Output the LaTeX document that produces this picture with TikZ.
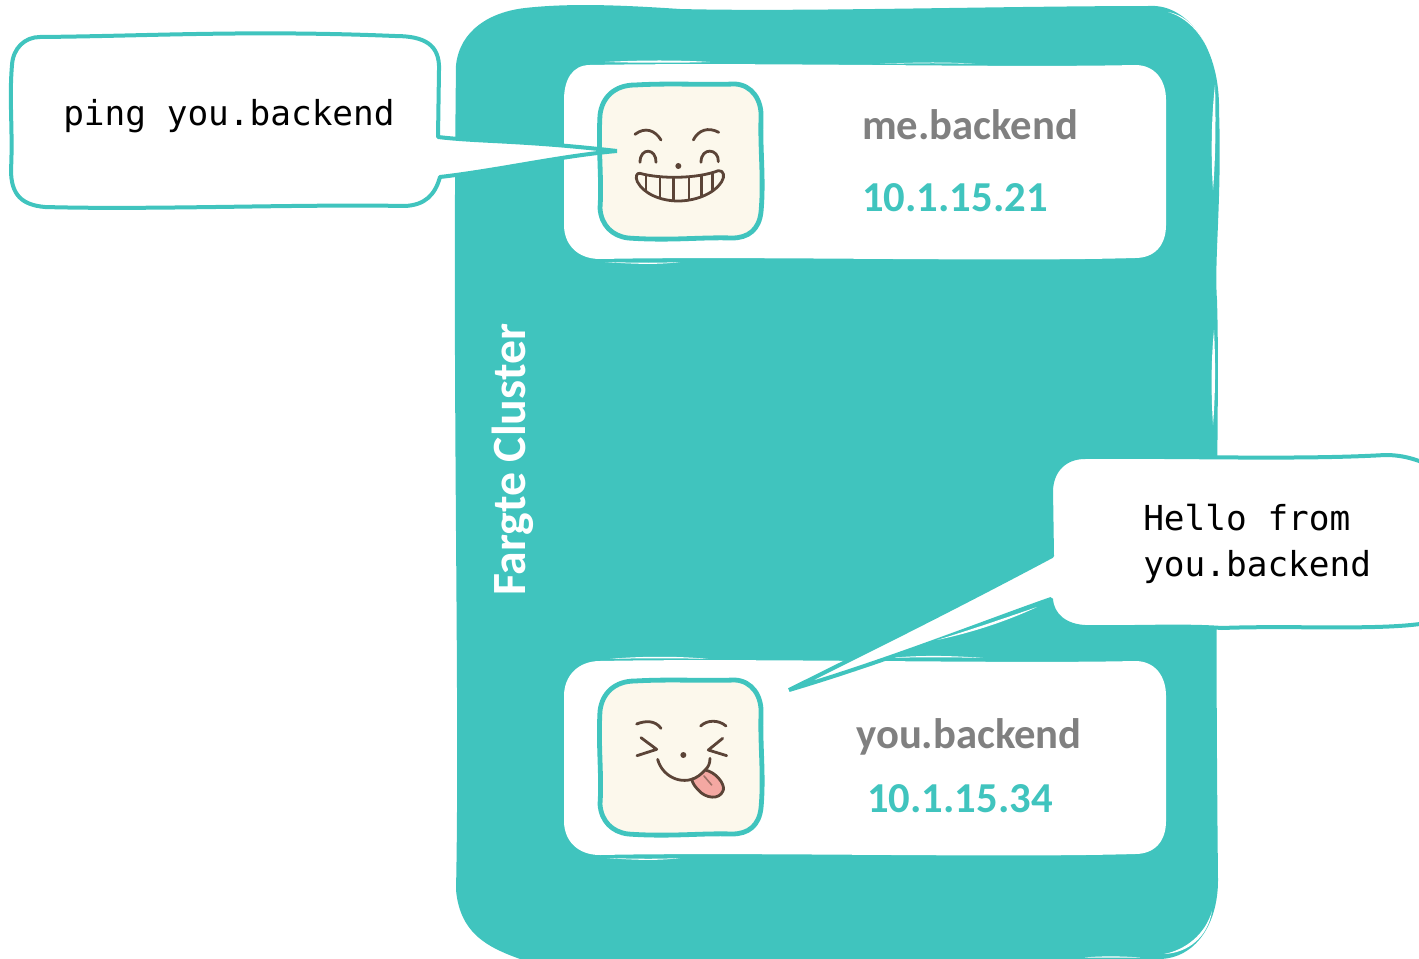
\documentclass[tikz,border=0pt]{standalone}
\usepackage{fontspec}
\setmainfont{Carlito}
\newfontfamily\monof{DejaVu Sans Mono}
\definecolor{teal1}{HTML}{40C4BE}
\definecolor{tile}{HTML}{FCF8EC}
\definecolor{ink}{HTML}{5B4437}
\definecolor{tongue}{HTML}{F4A8A2}
\definecolor{gray1}{HTML}{808080}
\tikzset{
  cluster/.style={fill=teal1},
  panel/.style={fill=white},
  facetile/.style={fill=tile,draw=teal1,line width=3.6pt},
  callout/.style={fill=white,draw=teal1,line width=3pt,line join=bevel},
  sliver/.style={fill=white},
  inkline/.style={draw=ink,line width=2.1pt,line cap=round,line join=round},
  namelabel/.style={anchor=base west,inner sep=0,text=gray1,font=\fontsize{32pt}{35pt}\selectfont\bfseries},
  iplabel/.style={anchor=base west,inner sep=0,text=teal1,font=\fontsize{32pt}{35pt}\selectfont\bfseries},
  saylabel/.style={anchor=base west,inner sep=0,text=black,font=\monof\fontsize{25.8pt}{30pt}\selectfont},
  titlelabel/.style={anchor=base west,inner sep=0,text=white,rotate=90,font=\fontsize{35.8pt}{38pt}\selectfont\bfseries}
}
\begin{document}
\begin{tikzpicture}[x=0.75pt,y=-0.75pt]
\useasboundingbox (0,0) rectangle (1419,959);
\begin{scope}
\clip (0,0) rectangle (1419,959);
% cluster
\path[cluster] (525,8) .. controls (570,3) and (620,5) .. (680,9)
  .. controls (800,12) and (1000,6) .. (1155,6)
  .. controls (1190,8) and (1220,50) .. (1219,110)
  .. controls (1222,200) and (1214,260) .. (1217,300)
  .. controls (1220,400) and (1214,500) .. (1218,880)
  .. controls (1218,925) and (1195,958) .. (1160,959)
  -- (520,959) .. controls (490,948) and (460,935) .. (456,890)
  .. controls (460,700) and (452,400) .. (456,65)
  .. controls (460,30) and (490,12) .. (525,8) -- cycle;
% panels
\path[panel] (590,65) .. controls (750,62) and (1000,68) .. (1135,65)
  .. controls (1155,65) and (1166,80) .. (1166,100)
  -- (1166,225) .. controls (1166,245) and (1155,258) .. (1135,258)
  .. controls (1000,262) and (750,256) .. (600,259)
  .. controls (578,259) and (564,245) .. (564,225)
  -- (564,100) .. controls (564,80) and (572,65) .. (590,65) -- cycle;
\path[panel] (600,661) .. controls (750,658) and (1000,664) .. (1135,661)
  .. controls (1155,661) and (1166,676) .. (1166,696)
  -- (1166,821) .. controls (1166,841) and (1155,854) .. (1135,854)
  .. controls (1000,858) and (750,852) .. (600,855)
  .. controls (578,855) and (564,841) .. (564,821)
  -- (564,696) .. controls (564,676) and (578,661) .. (600,661) -- cycle;
% slivers on the panel and cluster edges
\path[sliver] (610,659) .. controls (640,656) and (680,656) .. (708,659) .. controls (680,658) and (640,658) .. (610,659) -- cycle;
\path[sliver] (890,658) .. controls (920,655) and (950,655.5) .. (983,658) .. controls (950,657) and (920,657) .. (890,658) -- cycle;
\path[sliver] (605,262) .. controls (640,264.5) and (660,264.5) .. (680,262) .. controls (660,263) and (640,263) .. (605,262) -- cycle;
\path[sliver] (607,858) .. controls (640,860.5) and (660,860.5) .. (680,858) .. controls (660,859) and (640,859) .. (607,858) -- cycle;
\path[sliver] (880,64) .. controls (920,62) and (950,62) .. (975,64) .. controls (950,63) and (920,63) .. (880,64) -- cycle;
\path[sliver] (605,62) .. controls (640,60) and (680,60) .. (710,62) .. controls (680,63) and (640,63) .. (605,62) -- cycle;
\path[sliver] (1215,85) .. controls (1211,120) and (1211,160) .. (1213,190) .. controls (1215.5,160) and (1216,120) .. (1215,85) -- cycle;
\path[sliver] (1214,330) .. controls (1211,360) and (1211,395) .. (1213,425) .. controls (1215.5,395) and (1215.5,360) .. (1214,330) -- cycle;
\path[sliver] (1168,12) .. controls (1185,17) and (1197,30) .. (1204,42) .. controls (1197,28) and (1185,15) .. (1168,12) -- cycle;
\path[sliver] (1212,911) .. controls (1205,935) and (1185,950) .. (1164,954) .. controls (1188,953) and (1208,937) .. (1212,911) -- cycle;
\path[sliver] (1085,957.5) .. controls (1100,956) and (1120,956) .. (1140,957.5) -- cycle;
% face tiles
\path[facetile] (635,85) .. controls (670,83) and (700,85) .. (735,84)
  .. controls (752,85) and (762,100) .. (761,118)
  .. controls (760,150) and (764,180) .. (761,212)
  .. controls (759,230) and (748,238) .. (732,238)
  .. controls (700,237) and (670,241) .. (628,238)
  .. controls (612,236) and (601,225) .. (600,208)
  .. controls (602,180) and (598,150) .. (600,115)
  .. controls (602,97) and (615,85) .. (635,85) -- cycle;
\path[facetile] (635,681) .. controls (670,679) and (700,681) .. (735,680)
  .. controls (752,681) and (762,696) .. (761,714)
  .. controls (760,746) and (764,776) .. (761,808)
  .. controls (759,826) and (748,834) .. (732,834)
  .. controls (700,833) and (670,837) .. (628,834)
  .. controls (612,832) and (601,821) .. (600,804)
  .. controls (602,776) and (598,746) .. (600,711)
  .. controls (602,693) and (615,681) .. (635,681) -- cycle;
% face one
\begin{scope}[shift={(590,75)},scale=1/3]
  \draw[inkline] (135,178) .. controls (165,155) and (195,165) .. (213,195);
  \draw[inkline] (310,195) .. controls (325,165) and (355,155) .. (386,172);
  \draw[inkline] (150,262) .. controls (150,215) and (200,220) .. (198,262);
  \draw[inkline] (333,262) .. controls (333,215) and (387,220) .. (385,260);
  \fill[ink] (265,273) circle (9);
  \begin{scope}
    \clip (150,295) .. controls (210,312) and (320,312) .. (385,287)
      .. controls (402,285) and (405,305) .. (395,320)
      .. controls (370,360) and (310,378) .. (265,378)
      .. controls (210,378) and (160,355) .. (142,320)
      .. controls (135,305) and (140,293) .. (150,295) -- cycle;
    \foreach \tx in {168,210,250,297,335,368}
      \draw[inkline] (\tx,295) -- (\tx,385);
  \end{scope}
  \draw[inkline] (150,295) .. controls (210,312) and (320,312) .. (385,287)
      .. controls (402,285) and (405,305) .. (395,320)
      .. controls (370,360) and (310,378) .. (265,378)
      .. controls (210,378) and (160,355) .. (142,320)
      .. controls (135,305) and (140,293) .. (150,295) -- cycle;
\end{scope}
% face two
\begin{scope}[shift={(590,670)},scale=1/3]
  \draw[inkline] (140,162) .. controls (165,152) and (195,150) .. (213,175);
  \draw[inkline] (332,168) .. controls (350,150) and (385,148) .. (408,168);
  \draw[inkline] (153,203) -- (200,238) -- (141,257);
  \draw[inkline] (398,205) -- (355,240) -- (410,257);
  \fill[ink] (280,255) circle (9);
  \draw[inkline] (203,268) .. controls (215,315) and (270,350) .. (325,320);
  \draw[inkline] (360,265) .. controls (360,280) and (355,292) .. (345,300);
  \draw[inkline,fill=tongue] (345,300) .. controls (375,305) and (405,340) .. (400,360)
     .. controls (390,392) and (345,385) .. (325,360)
     .. controls (315,350) and (308,340) .. (305,328)
     .. controls (318,325) and (335,312) .. (345,300) -- cycle;
  \draw[draw=ink!55!tongue,line width=1.2pt,line cap=round] (342,318) -- (365,345);
\end{scope}
% callouts
\path[callout] (40,37) .. controls (150,36) and (250,30) .. (395,36)
  .. controls (425,36) and (440,45) .. (439,70)
  -- (438,137) .. controls (480,142) and (520,140) .. (617,151)
  .. controls (560,156) and (500,170) .. (440,177)
  .. controls (435,195) and (425,205) .. (405,206)
  .. controls (300,204) and (150,210) .. (45,207)
  .. controls (22,205) and (11,195) .. (11,170)
  .. controls (13,130) and (9,100) .. (12,65)
  .. controls (13,48) and (25,37) .. (40,37) -- cycle;
\path[callout] (1085,457) .. controls (1180,456) and (1300,460) .. (1385,455)
  .. controls (1405,455) and (1419,460) .. (1440,470)
  -- (1440,620) .. controls (1400,632) and (1300,625) .. (1222,628)
  .. controls (1180,625) and (1130,628) .. (1085,627)
  .. controls (1065,626) and (1052,615) .. (1051,599)
  .. controls (985,622) and (890,660) .. (789,690)
  .. controls (870,650) and (960,605) .. (1052,556)
  -- (1051,490) .. controls (1052,470) and (1065,457) .. (1085,457) -- cycle;
\path[sliver] (937,640) .. controls (970,630) and (1005,618) .. (1037,607) .. controls (1005,622) and (970,633) .. (937,640) -- cycle;
% text
\node[titlelabel] (title) at (525,596) {Fargte Cluster};
\node[namelabel] (me) at (862,140) {me.backend};
\node[iplabel] (meip) at (862,212) {10.1.15.21};
\node[namelabel] (you) at (856,748) {you.backend};
\node[iplabel] (youip) at (867,812) {10.1.15.34};
\node[saylabel] (ping) at (63,126) {ping you.backend};
\node[saylabel] (hello) at (1143,530) {Hello from};
\node[saylabel] (youb) at (1143,576) {you.backend};
\end{scope}
\end{tikzpicture}
\end{document}
